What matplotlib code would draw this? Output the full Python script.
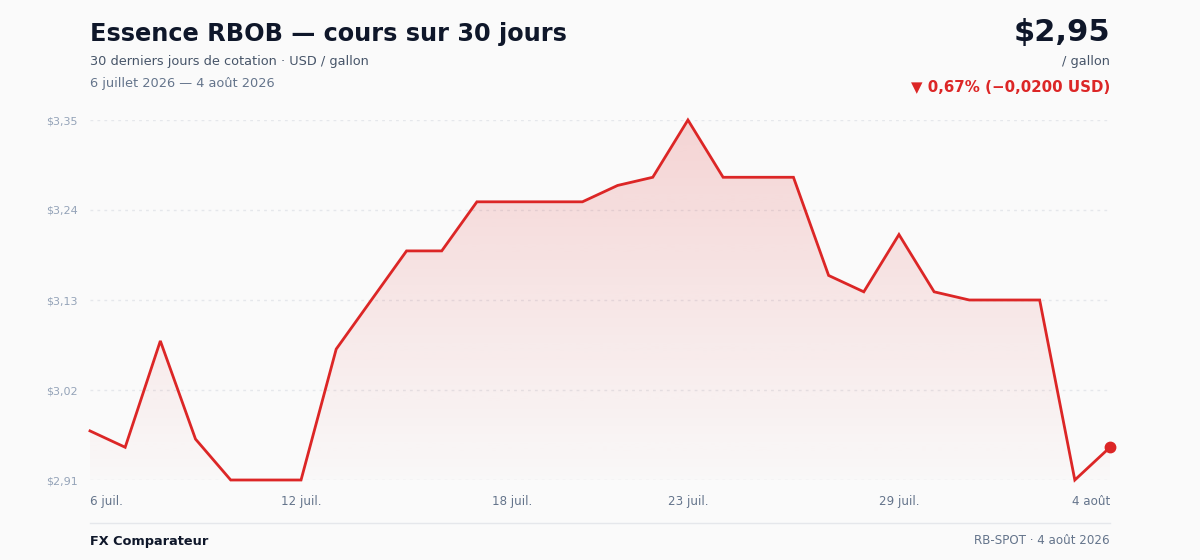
import numpy as np
import matplotlib
matplotlib.use("Agg")
import matplotlib.pyplot as plt
from matplotlib.colors import to_rgb

# prix quotidien RBOB (USD / gallon), 6 juillet -> 4 aout 2026
prices = [2.97, 2.95, 3.08, 2.96, 2.91, 2.91, 2.91, 3.07, 3.13, 3.19,
          3.19, 3.25, 3.25, 3.25, 3.25, 3.27, 3.28, 3.35, 3.28, 3.28,
          3.28, 3.16, 3.14, 3.21, 3.14, 3.13, 3.13, 3.13, 2.91, 2.95]
tick_days = [0, 6, 12, 17, 23, 29]
tick_labels = ["6 juil.", "12 juil.", "18 juil.", "23 juil.", "29 juil.", "4 août"]
y_ticks = [2.91, 3.02, 3.13, 3.24, 3.35]
y_labels = ["$2,91", "$3,02", "$3,13", "$3,24", "$3,35"]

BG = "#fafafa"
RED = "#dc2626"
DARK = "#0f172a"
MUTED = "#64748b"
LIGHT = "#94a3b8"
GRID = "#e5e7eb"

W, H = 1200, 560
fig = plt.figure(figsize=(W / 100, H / 100), dpi=100, facecolor=BG)

def px(x, y):
    # pixel coords (top-left origin) -> figure fraction
    return x / W, 1 - y / H

ax = fig.add_axes([90 / W, 1 - 480 / H, 1020 / W, 360 / H])
ax.set_facecolor(BG)
days = np.arange(len(prices))
ymin, ymax = min(prices), max(prices)
ax.set_xlim(0, len(prices) - 1)
ax.set_ylim(ymin, ymax)

# degrade sous la courbe
poly = ax.fill_between(days, prices, ymin, facecolor="none", edgecolor="none")
r, g, b = to_rgb(RED)
grad = np.zeros((256, 1, 4))
grad[:, 0, 0], grad[:, 0, 1], grad[:, 0, 2] = r, g, b
grad[:, 0, 3] = np.linspace(0.18, 0.01, 256)
im = ax.imshow(grad, extent=(0, len(prices) - 1, ymin, ymax), origin="upper",
               aspect="auto", zorder=1, interpolation="bilinear")
im.set_clip_path(poly.get_paths()[0], transform=ax.transData)

for yt in y_ticks:
    ax.axhline(yt, color=GRID, lw=1, ls=(0, (2, 3)), zorder=0.5)

ax.plot(days, prices, color=RED, lw=2, zorder=3, clip_on=False,
        solid_joinstyle="miter")
ax.plot(days[-1], prices[-1], "o", color=RED, ms=7.5, zorder=4, clip_on=False)

for s in ax.spines.values():
    s.set_visible(False)
ax.tick_params(length=0)
ax.set_yticks(y_ticks)
ax.set_yticklabels(y_labels, fontsize=8, color=LIGHT)
ax.tick_params(axis="y", pad=9)
ax.set_xticks(tick_days)
ax.set_xticklabels(tick_labels, fontsize=8.6, color=MUTED)
ax.tick_params(axis="x", pad=11)
xt = ax.get_xticklabels()
xt[0].set_ha("left")
xt[-1].set_ha("right")

# en-tete
fig.text(*px(90, 34), "Essence RBOB — cours sur 30 jours", fontsize=17.3,
         fontweight="bold", color=DARK, va="center")
fig.text(*px(90, 61), "30 derniers jours de cotation · USD / gallon",
         fontsize=9.3, color="#475569", va="center")
fig.text(*px(90, 83), "6 juillet 2026 — 4 août 2026", fontsize=9.3,
         color=MUTED, va="center")
fig.text(*px(1110, 33), "$2,95", fontsize=22, fontweight="bold", color=DARK,
         ha="right", va="center")
fig.text(*px(1110, 61), "/ gallon", fontsize=9.3, color="#475569",
         ha="right", va="center")
fig.text(*px(1110, 87), "▼ 0,67% (−0,0200 USD)", fontsize=10.8,
         fontweight="bold", color=RED, ha="right", va="center")

# pied de page
fig.add_artist(plt.Line2D([90 / W, 1110 / W], [1 - 523 / H] * 2,
                          color="#e5e7eb", lw=1, transform=fig.transFigure))
fig.text(*px(90, 541), "FX Comparateur", fontsize=9.3, fontweight="bold",
         color=DARK, va="center")
fig.text(*px(1110, 541), "RB-SPOT · 4 août 2026", fontsize=8.6,
         color=MUTED, ha="right", va="center")

fig.savefig("out.png", dpi=100, facecolor=BG)
